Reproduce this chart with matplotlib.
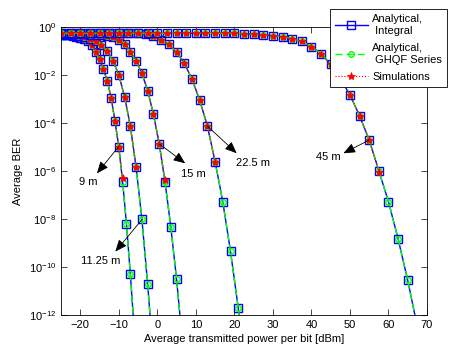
import matplotlib
matplotlib.use("Agg")
import matplotlib.pyplot as plt
from matplotlib.ticker import NullLocator
import numpy as np

# ─────────────────────────────────────────────
# Données (log10 du BER)
# ─────────────────────────────────────────────
power_9m = [-25, -24, -23, -22, -21, -20, -19, -18, -17, -16,
            -15, -14, -13, -12, -11, -10, -9, -8, -7, -6]
logber_9m = [-0.33, -0.34, -0.35, -0.37, -0.40, -0.44, -0.50, -0.59, -0.75, -1.03,
             -1.35, -1.74, -2.25, -2.94, -3.90, -5.00, -6.45, -8.22, -10.30, -12.60]

power_11m = [-25, -23.5, -22, -20.5, -19, -17.5, -16, -14.5, -13, -11.5,
             -10, -8.5, -7, -5.5, -4, -2.5, -1]
logber_11m = [-0.32, -0.33, -0.35, -0.38, -0.42, -0.49, -0.59, -0.75, -1.01, -1.40,
              -2.00, -2.90, -4.13, -5.85, -8.01, -10.72, -13.90]

power_15m = [-25, -23.5, -22, -20.5, -19, -17.5, -16, -14.5, -13, -11.5, -10,
             -8.5, -7, -5.5, -4, -2.5, -1, 0.5, 2, 3.5, 5, 6.5]
logber_15m = [-0.30, -0.30, -0.30, -0.31, -0.31, -0.32, -0.32, -0.34, -0.37, -0.43, -0.54,
              -0.72, -1.03, -1.42, -1.93, -2.65, -3.64, -4.87, -6.45, -8.32, -10.51, -13.10]

power_22m = [-25, -23, -21, -19, -17, -15, -13, -11, -9, -7, -5, -3, -1,
             1, 3, 5, 7, 9, 11, 13, 15, 17, 19, 21, 23]
logber_22m = [-0.26, -0.26, -0.26, -0.26, -0.26, -0.26, -0.26, -0.26, -0.26, -0.26, -0.27, -0.30, -0.39,
              -0.54, -0.72, -1.05, -1.51, -2.17, -3.05, -4.13, -5.61, -7.29, -9.35, -11.70, -14.30]

power_45m = [-25, -22.5, -20, -17.5, -15, -12.5, -10, -7.5, -5, -2.5, 0, 2.5, 5, 7.5, 10, 12.5,
             15, 17.5, 20, 22.5, 25, 27.5, 30, 32.5, 35, 37.5, 40, 42.5, 45, 47.5, 50, 52.5,
             55, 57.5, 60, 62.5, 65, 67.5]
logber_45m = [-0.26, -0.26, -0.26, -0.26, -0.26, -0.26, -0.26, -0.26, -0.26, -0.26, -0.26, -0.26,
              -0.26, -0.26, -0.26, -0.26, -0.26, -0.26, -0.26, -0.28, -0.30, -0.33, -0.36, -0.40,
              -0.48, -0.60, -0.82, -1.11, -1.56, -2.15, -2.83, -3.70, -4.71, -5.99, -7.28, -8.83,
              -10.56, -12.50]

# Simulations (s'arrêtent vers 1e-6)
sim_logber_9m = [-0.33, -0.34, -0.35, -0.37, -0.40, -0.44, -0.50, -0.59, -0.75, -1.03,
                 -1.35, -1.74, -2.25, -2.94, -3.90, -5.00, -6.30]
sim_logber_11m = [-0.32, -0.33, -0.35, -0.38, -0.42, -0.49, -0.59, -0.75, -1.01, -1.40,
                  -2.00, -2.90, -4.13, -5.85]
sim_logber_15m = [-0.30, -0.30, -0.30, -0.31, -0.31, -0.32, -0.32, -0.34, -0.37, -0.43, -0.54,
                  -0.72, -1.03, -1.42, -1.93, -2.65, -3.64, -4.87, -6.37]
sim_logber_22m = [-0.26, -0.26, -0.26, -0.26, -0.26, -0.26, -0.26, -0.26, -0.26, -0.26, -0.27, -0.30, -0.39,
                  -0.54, -0.72, -1.05, -1.51, -2.17, -3.05, -4.13, -5.61]
sim_logber_45m = [-0.26, -0.26, -0.26, -0.26, -0.26, -0.26, -0.26, -0.26, -0.26, -0.26, -0.26, -0.26,
                  -0.26, -0.26, -0.26, -0.26, -0.26, -0.26, -0.26, -0.28, -0.30, -0.33, -0.36, -0.40,
                  -0.48, -0.60, -0.82, -1.11, -1.56, -2.15, -2.83, -3.70, -4.71, -6.03]

distance_labels = ["9 m", "11.25 m", "15 m", "22.5 m", "45 m"]
legend_labels = ["Analytical,\n Integral", "Analytical,\n GHQF Series", "Simulations"]
x_ticks = [-20, -10, 0, 10, 20, 30, 40, 50, 60, 70]
y_ticks = [1e0, 1e-2, 1e-4, 1e-6, 1e-8, 1e-10, 1e-12]

plt.rcParams["font.family"] = ["Liberation Sans", "DejaVu Sans"]
plt.rcParams["mathtext.fontset"] = "custom"
plt.rcParams["mathtext.rm"] = "Liberation Sans"
plt.rcParams["mathtext.it"] = "Liberation Sans:italic"
plt.rcParams["font.size"] = 8

fig = plt.figure(figsize=(4.71, 3.54), dpi=100)
ax = fig.add_axes([0.1295, 0.1102, 0.7771, 0.8135])

curves = [
    (power_9m, logber_9m, sim_logber_9m),
    (power_11m, logber_11m, sim_logber_11m),
    (power_15m, logber_15m, sim_logber_15m),
    (power_22m, logber_22m, sim_logber_22m),
    (power_45m, logber_45m, sim_logber_45m),
]

handles = []
for i, (p, lb, slb) in enumerate(curves):
    ber = 10 ** np.array(lb)
    sim = 10 ** np.array(slb)
    h1, = ax.semilogy(p, ber, "-", color="blue", lw=1.0, marker="s", ms=5.5,
                      mfc="none", mec="blue", mew=1.0)
    h2, = ax.semilogy(p, ber, "--", color="#00ff00", lw=1.0, marker="o", ms=4,
                      mfc="none", mec="#00ff00", mew=1.0, dashes=(5, 3))
    h3, = ax.semilogy(p[:len(sim)], sim, ":", color="red", lw=0.8, marker="*", ms=6,
                      mfc="red", mec="red", mew=0.6)
    if i == 0:
        handles = [h1, h2, h3]

ax.set_xlim(-25, 70)
ax.set_ylim(1e-12, 1e0)
ax.set_xticks(x_ticks)
ax.set_yticks(y_ticks)
ax.yaxis.set_minor_locator(NullLocator())
ax.tick_params(direction="in", top=True, right=True, length=4, width=0.5, labelsize=8)
for s in ax.spines.values():
    s.set_linewidth(0.6)

ax.set_xlabel("Average transmitted power per bit [dBm]", fontsize=8, labelpad=3)
ax.set_ylabel("Average BER", fontsize=8, labelpad=4)

# Flèches et étiquettes de distance
arrows = [
    ((-10.07, -4.99), (-15.67, -6.10), (-17.9, -6.46)),
    ((-3.92, -8.01), (-10.9, -9.36), (-14.7, -9.75)),
    ((0.6, -4.88), (7.23, -5.68), (9.4, -6.13)),
    ((13.0, -4.13), (20.6, -5.26), (24.9, -5.65)),
    ((55.0, -4.71), (48.3, -5.26), (44.4, -5.42)),
]
for label, (tail, head, txt) in zip(distance_labels, arrows):
    ax.annotate("", xy=(head[0], 10 ** head[1]), xytext=(tail[0], 10 ** tail[1]),
                arrowprops=dict(arrowstyle="-|>,head_length=0.6,head_width=0.25",
                                color="black", lw=0.6, mutation_scale=12,
                                shrinkA=0, shrinkB=0))
    ax.text(txt[0], 10 ** txt[1], label, ha="center", va="center", fontsize=8)

leg = ax.legend(handles, legend_labels, loc="upper right",
                bbox_to_anchor=(447.3 / 471, 1 - 9.3 / 354), bbox_transform=fig.transFigure,
                borderaxespad=0, fontsize=8, handlelength=3.0, handletextpad=0.4,
                labelspacing=0.65, fancybox=False, framealpha=1, edgecolor="black",
                borderpad=0.45)
leg.get_frame().set_linewidth(0.6)

fig.savefig("out.png", dpi=100)
plt.close(fig)
